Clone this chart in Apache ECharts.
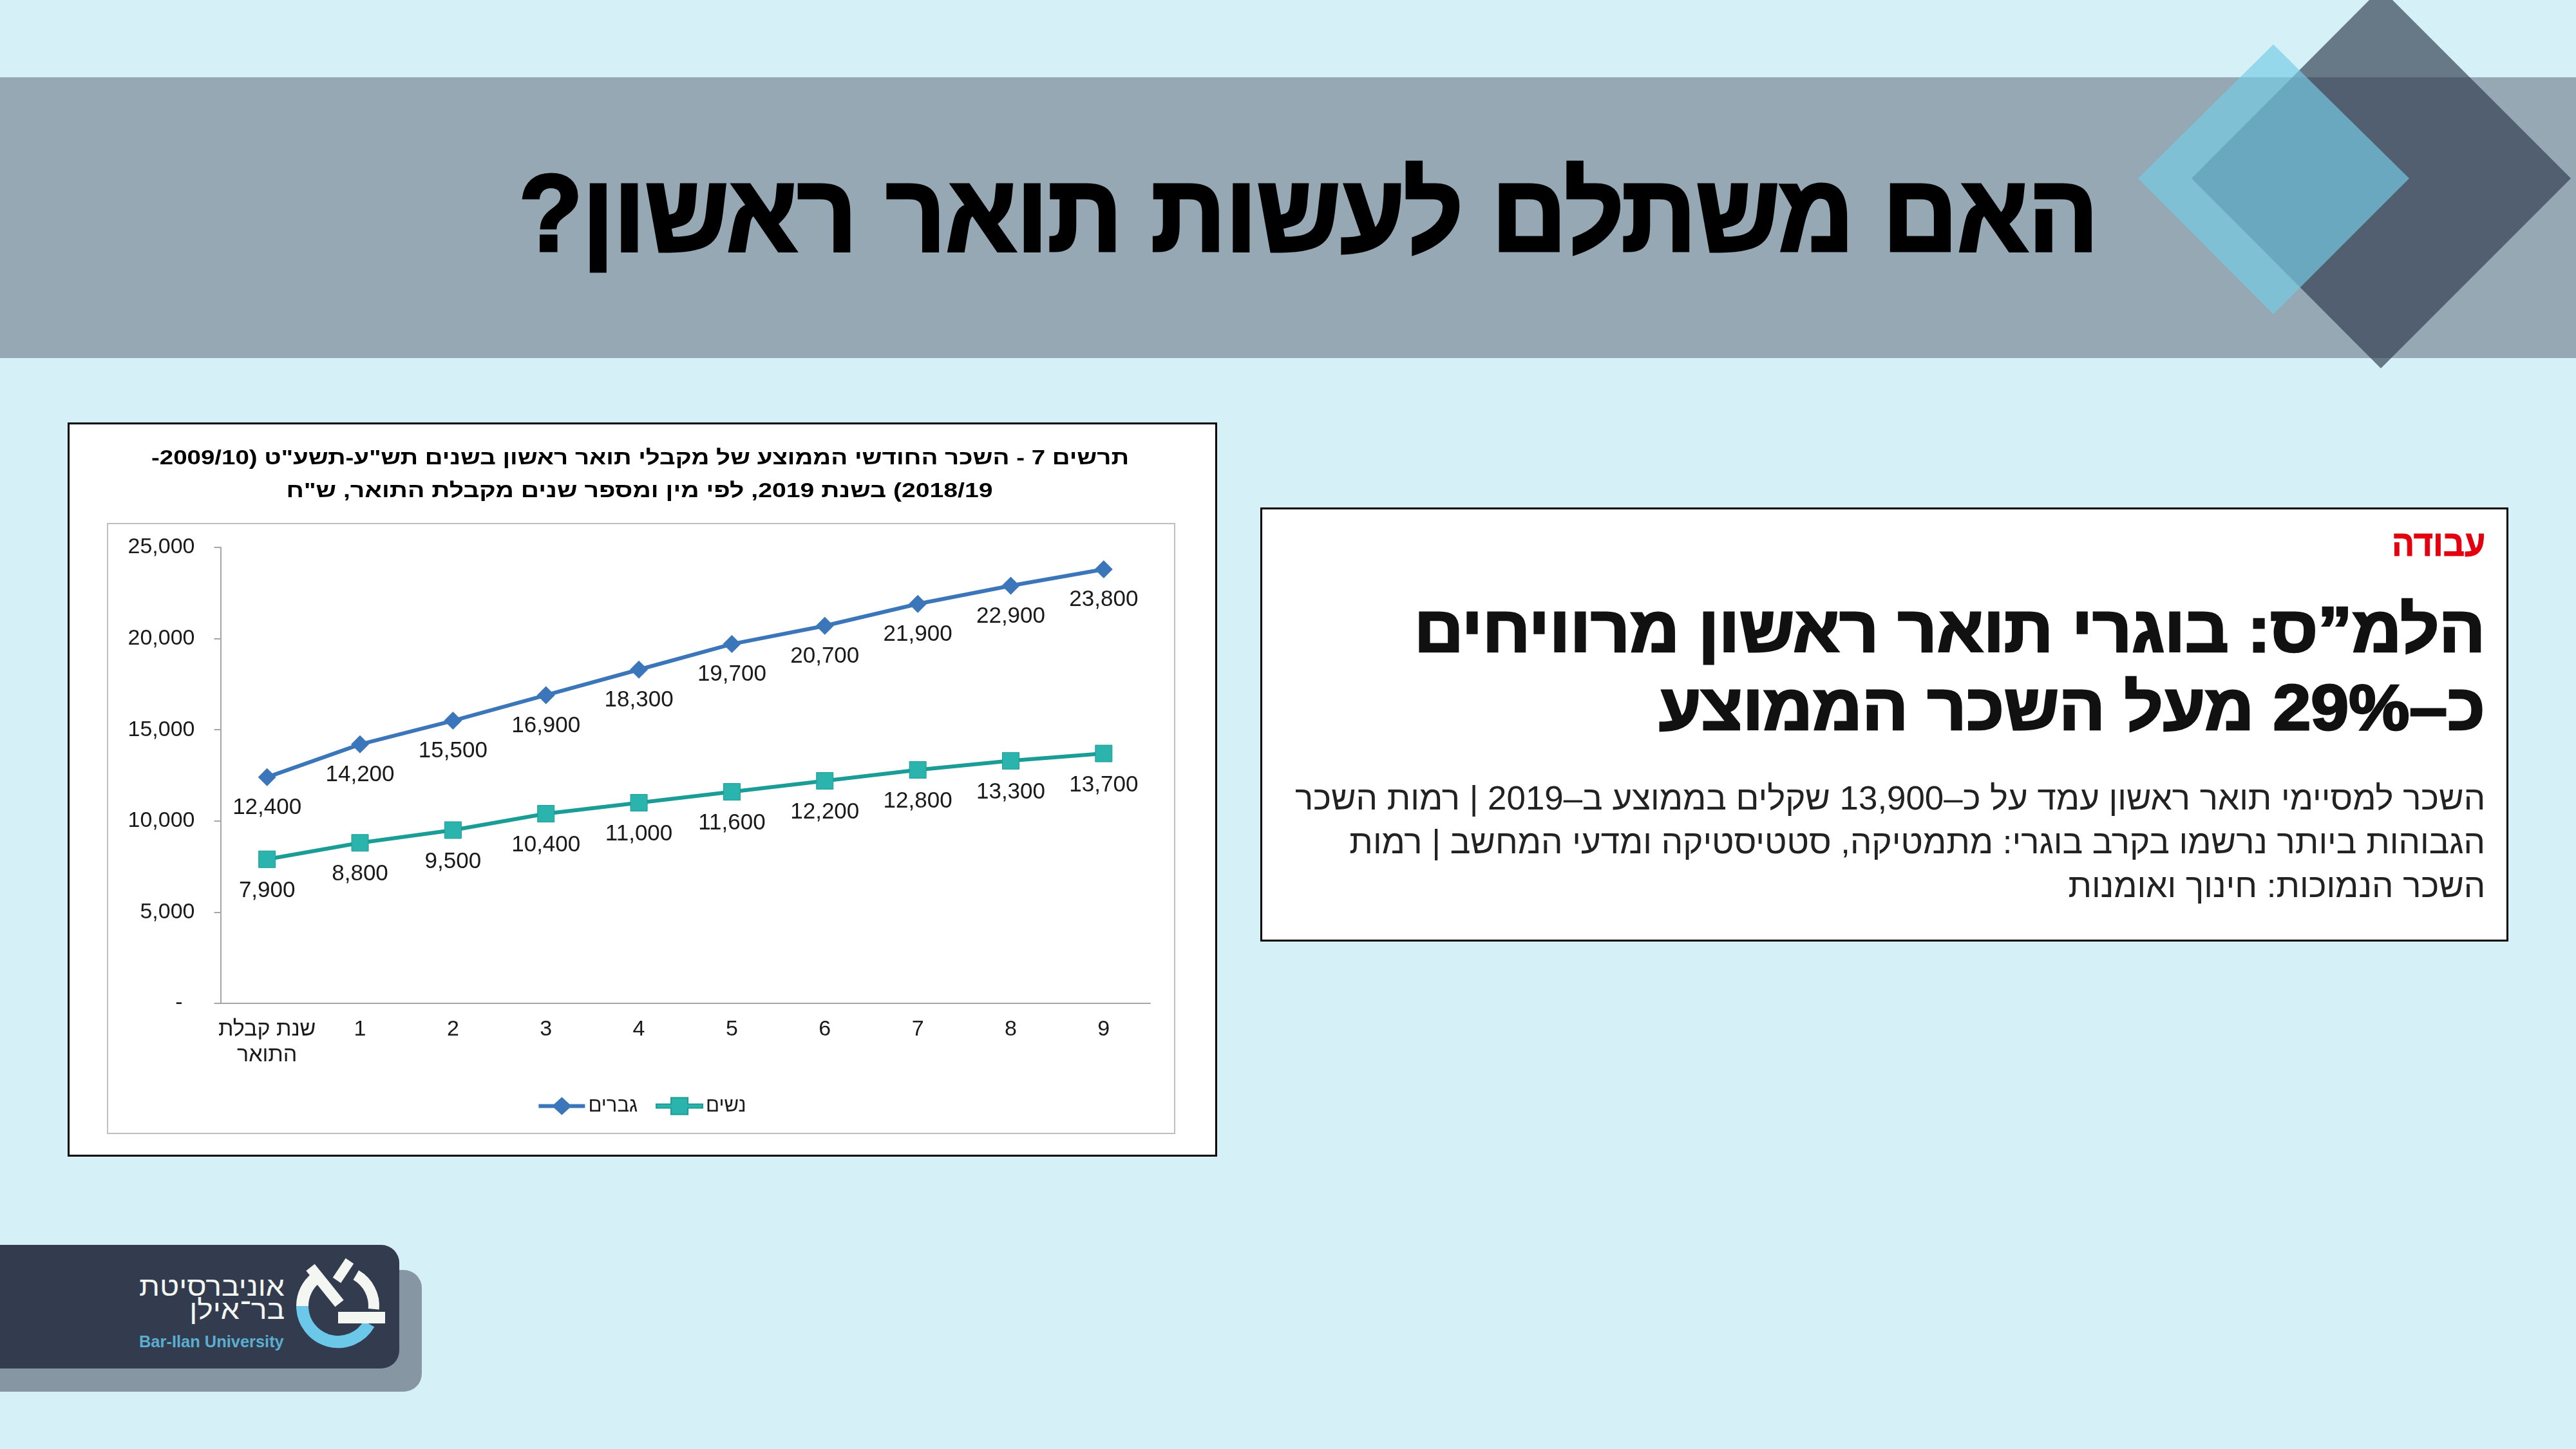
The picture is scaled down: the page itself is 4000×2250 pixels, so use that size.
<!DOCTYPE html>
<html lang="he">
<head>
<meta charset="utf-8">
<title>האם משתלם לעשות תואר ראשון?</title>
<script src="https://cdn.jsdelivr.net/npm/echarts@6/dist/echarts.min.js"></script>
<style>
  html, body { margin: 0; padding: 0; width: 4000px; height: 2250px; overflow: hidden; background: #d6f0f7; font-family: "Liberation Sans", "DejaVu Sans", sans-serif; }
  #band { position: absolute; left: 0; top: 120px; width: 4000px; height: 436px; background: #95a8b4; }
  #deco { position: absolute; left: 0; top: 0; }
  .t { position: absolute; white-space: nowrap; direction: rtl; transform-origin: 100% 50%; line-height: normal; }
  #chartBox { position: absolute; left: 105px; top: 656px; width: 1785px; height: 1140px; box-sizing: border-box; border: 3px solid #000; background: #fff; }
  #chart { position: absolute; left: 0; top: 0; width: 1779px; height: 1134px; direction: rtl; }
  #newsBox { position: absolute; left: 1957px; top: 788px; width: 1938px; height: 674px; box-sizing: border-box; border: 3px solid #000; background: #fff; }
</style>
</head>
<body>
<div id="band"></div>
<svg id="deco" width="4000" height="2250" viewBox="0 0 4000 2250">
  <polygon points="3697,-18 3992,277 3697,572 3403,277" fill="rgba(46,58,77,0.66)"/>
  <polygon points="3530,69 3741,277 3530,488 3320,277" fill="rgba(118,203,228,0.68)"/>
  <!-- logo plate -->
  <rect x="-40" y="1972" width="695" height="189" rx="28" fill="#8796a3"/>
  <rect x="-40" y="1933" width="660" height="192" rx="28" fill="#323c4e"/>
  <g fill="none" stroke-linecap="butt">
    <path d="M469.5 2028 A55.5 55.5 0 0 0 573.1 2055.8" stroke="#6cc8e8" stroke-width="19"/>
    <path d="M469.5 2028 A55.5 55.5 0 0 1 491 1984" stroke="#f3f6f1" stroke-width="19"/>
    <path d="M552.8 1979.9 A55.5 55.5 0 0 1 580.3 2032.8" stroke="#f3f6f1" stroke-width="17"/>
    <path d="M482 1968 L527 2024" stroke="#f3f6f1" stroke-width="17"/>
    <path d="M543 1958 L523 1988" stroke="#f3f6f1" stroke-width="15"/>
  </g>
  <rect x="525" y="2037" width="73" height="18" fill="#f3f6f1"/>
</svg>

<div id="chartBox"><div id="chart"></div></div>
<div id="newsBox"></div>

<div class="t" id="title" style="font-size:169px;font-weight:700;color:#000;-webkit-text-stroke:5px #000;">האם משתלם לעשות תואר ראשון?</div>
<div class="t" id="tag" style="font-size:56px;font-weight:700;color:#e3000f;-webkit-text-stroke:1px #e3000f;">עבודה</div>
<div class="t" id="head1" style="font-size:100px;font-weight:700;color:#111;-webkit-text-stroke:3px #111;">הלמ”ס: בוגרי תואר ראשון מרוויחים</div>
<div class="t" id="head2" style="font-size:100px;font-weight:700;color:#111;-webkit-text-stroke:3px #111;">כ–29% מעל השכר הממוצע</div>
<div class="t" id="body1" style="font-size:52px;color:#222;">השכר למסיימי תואר ראשון עמד על כ–13,900 שקלים בממוצע ב–2019 | רמות השכר</div>
<div class="t" id="body2" style="font-size:52px;color:#222;">הגבוהות ביותר נרשמו בקרב בוגרי: מתמטיקה, סטטיסטיקה ומדעי המחשב | רמות</div>
<div class="t" id="body3" style="font-size:52px;color:#222;">השכר הנמוכות: חינוך ואומנות</div>
<div class="t" id="logo1" style="font-size:42px;color:#f3f6f1;">אוניברסיטת</div>
<div class="t" id="logo2" style="font-size:42px;color:#f3f6f1;">בר־אילן</div>
<div class="t" id="logo3" style="font-size:26px;font-weight:700;color:#5aaed0;direction:ltr;">Bar-Ilan University</div>

<script>
// chart data
const categories = ['שנת קבלת\nהתואר', '1', '2', '3', '4', '5', '6', '7', '8', '9']
const seriesNames = ['גברים', 'נשים']
const menValues = [12400, 14200, 15500, 16900, 18300, 19700, 20700, 21900, 22900, 23800]
const womenValues = [7900, 8800, 9500, 10400, 11000, 11600, 12200, 12800, 13300, 13700]
const titleLines = [
  'תרשים 7 - השכר החודשי הממוצע של מקבלי תואר ראשון בשנים תש"ע-תשע"ט (2009/10-',
  '2018/19) בשנת 2019, לפי מין ומספר שנים מקבלת התואר, ש"ח'
]

const FONT = '"Liberation Sans", "DejaVu Sans", sans-serif'
const fmt = (v) => v.toLocaleString('en-US')

// legend icons: thick line with the series marker in the middle
const ICON_DIAMOND = 'path://M0,11 L24,11 L36,0 L48,11 L72,11 L72,17 L48,17 L36,28 L24,17 L0,17 Z'
const ICON_SQUARE = 'path://M0,11 L23,11 L23,1 L49,1 L49,11 L72,11 L72,17 L49,17 L49,27 L23,27 L23,17 L0,17 Z'

// put an html text with its right edge and baseline on a spot, squeeze to a width
function place(id, right, baseline, width, scale) {
  const el = document.getElementById(id)
  const w = el.offsetWidth
  const probe = document.createElement('span')
  probe.style.cssText = 'display:inline-block;width:0;height:0;vertical-align:baseline'
  el.appendChild(probe)
  const base = probe.offsetTop
  el.removeChild(probe)
  el.style.top = (baseline - base) + 'px'
  el.style.right = (4000 - right) + 'px'
  const s = scale || (width ? width / w : 1)
  el.style.transform = 'scaleX(' + s + ')'
  return s
}

function measure(text, font) {
  const ctx = document.createElement('canvas').getContext('2d')
  ctx.font = font
  return ctx.measureText(text).width
}

function drawChart() {
  var myChart = echarts.init(document.getElementById('chart'))
  const titleFont = 'bold 32px ' + FONT
  const s1 = 1518 / measure(titleLines[0], titleFont)
  const s2 = 1097 / measure(titleLines[1], titleFont)

  var option = {
    animation: false,
    textStyle: { fontFamily: FONT },
    graphic: [
      {
        type: 'rect', silent: true, z: -10,
        shape: { x: 59, y: 154, width: 1657, height: 947 },
        style: { fill: 'none', stroke: '#bfbfbf', lineWidth: 2 }
      },
      {
        type: 'text', x: 886, y: 53, scaleX: s1,
        style: { text: titleLines[0], font: titleFont, fill: '#000', align: 'center', verticalAlign: 'middle', textAlign: 'center', textVerticalAlign: 'middle' }
      },
      {
        type: 'text', x: 885, y: 104, scaleX: s2,
        style: { text: titleLines[1], font: titleFont, fill: '#000', align: 'center', verticalAlign: 'middle', textAlign: 'center', textVerticalAlign: 'middle' }
      }
    ],
    legend: {
      data: [
        { name: seriesNames[0], icon: ICON_DIAMOND },
        { name: seriesNames[1], icon: ICON_SQUARE }
      ],
      left: 'center',
      top: 1038,
      itemWidth: 72,
      itemHeight: 28,
      itemGap: 28,
      textStyle: { fontSize: 31, color: '#1a1a1a', fontFamily: FONT }
    },
    grid: { left: 234.5, right: 101, top: 191, bottom: 235 },
    xAxis: {
      type: 'category',
      data: categories,
      boundaryGap: true,
      axisLine: { lineStyle: { color: '#a6a6a6', width: 2 } },
      axisTick: { show: false },
      axisLabel: { interval: 0, fontSize: 34, color: '#1a1a1a', margin: 21, lineHeight: 40 }
    },
    yAxis: {
      type: 'value',
      min: 0,
      max: 25000,
      interval: 5000,
      splitLine: { show: false },
      axisLine: { show: true, lineStyle: { color: '#a6a6a6', width: 2 } },
      axisTick: { show: true, length: 10, lineStyle: { color: '#a6a6a6', width: 2 } },
      axisLabel: {
        fontSize: 34,
        color: '#1a1a1a',
        margin: 40,
        formatter: (v) => (v === 0 ? '{z|-}' : fmt(v)),
        rich: { z: { fontSize: 34, color: '#1a1a1a', padding: [0, 19, 0, 0] } }
      }
    },
    series: [
      {
        name: seriesNames[0],
        type: 'line',
        data: menValues,
        symbol: 'diamond',
        symbolSize: 28,
        lineStyle: { width: 6, color: '#3b76ba' },
        itemStyle: { color: '#3b76ba' },
        label: { show: true, position: 'bottom', distance: 16, fontSize: 35, color: '#1a1a1a', formatter: (p) => fmt(p.value) }
      },
      {
        name: seriesNames[1],
        type: 'line',
        data: womenValues,
        symbol: 'rect',
        symbolSize: 26,
        lineStyle: { width: 6, color: '#1a9d97' },
        itemStyle: { color: '#2bb3ad', borderColor: '#1d9c96', borderWidth: 1 },
        label: { show: true, position: 'bottom', distance: 18, fontSize: 35, color: '#1a1a1a', formatter: (p) => fmt(p.value) }
      }
    ]
  }
  myChart.setOption(option)
}

function layoutTexts() {
  place('title', 3258, 389, 2452)
  place('tag', 3859, 863, 145)
  const hs = place('head1', 3859, 1012, 1663)
  place('head2', 3859, 1133, 0, hs)
  const bs = place('body1', 3859, 1257, 1848)
  place('body2', 3859, 1325, 0, bs)
  place('body3', 3859, 1393, 0, bs)
  const ls = place('logo1', 442, 2012, 226)
  place('logo2', 442, 2048, 0, ls)
  place('logo3', 441, 2092, 225)
}

document.fonts.ready.then(() => {
  layoutTexts()
  drawChart()
})
</script>
</body>
</html>
